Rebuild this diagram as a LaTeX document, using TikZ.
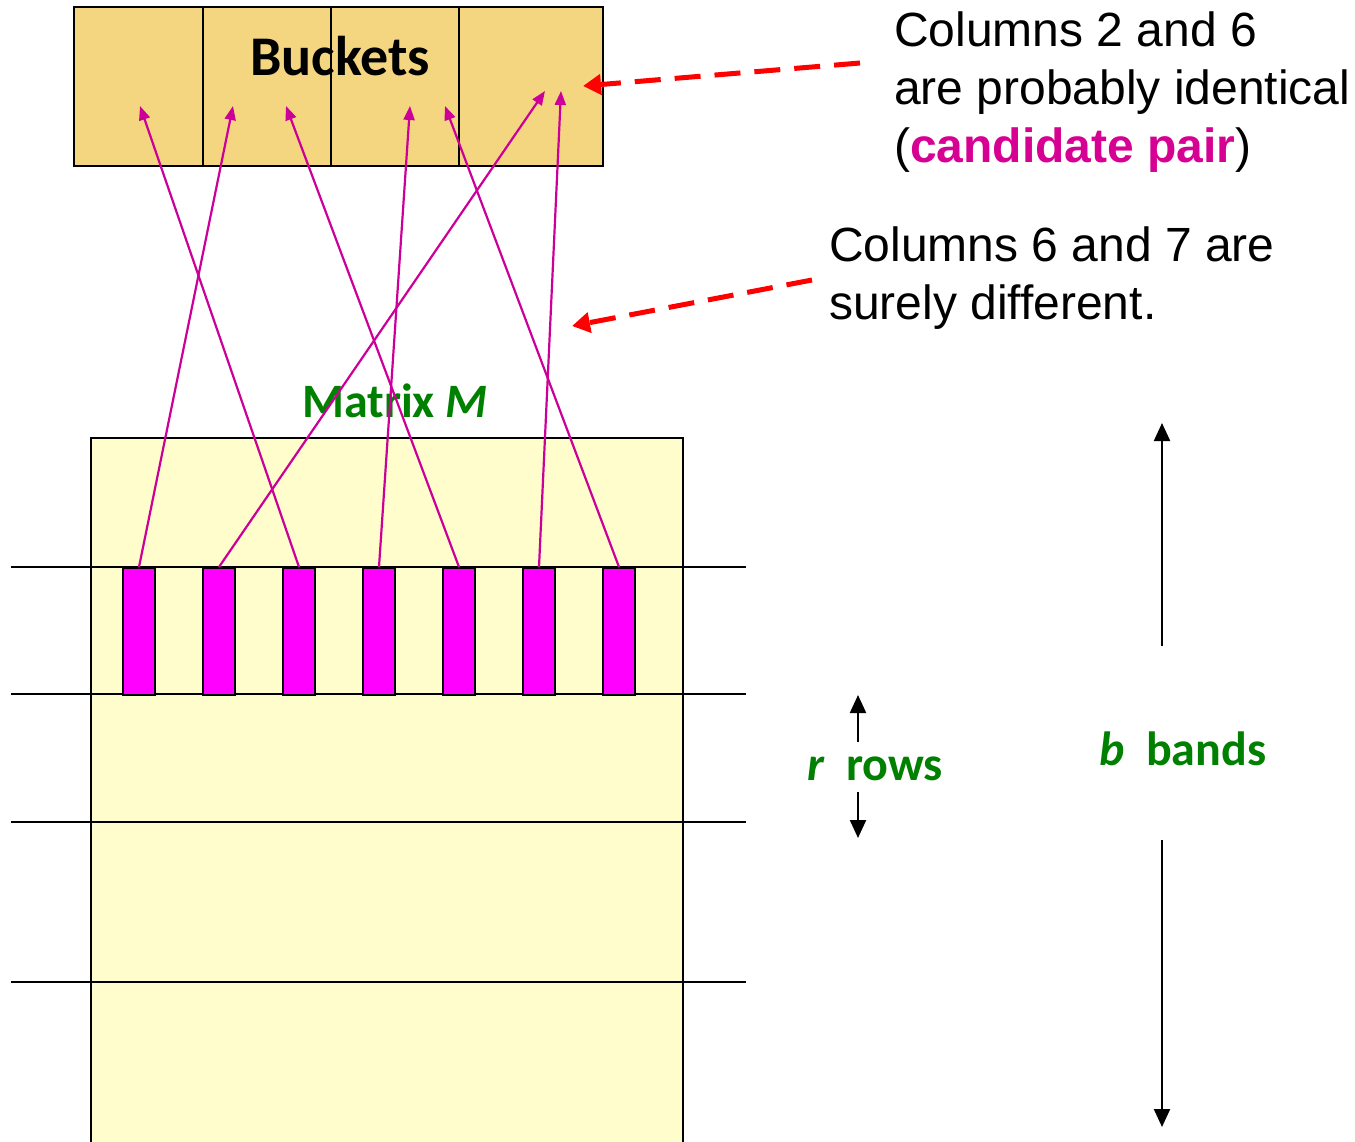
\documentclass[tikz,border=0pt]{standalone}
\usepackage{xcolor}
\usepackage{fontspec}
\setmainfont{Liberation Sans}
\newfontfamily\calfont{Carlito}
\usepackage{tikz}
\usetikzlibrary{arrows.meta, positioning}

\definecolor{bucketfill}{RGB}{245,214,128}
\definecolor{matrixfill}{RGB}{255,253,204}
\definecolor{barfill}{RGB}{255,0,255}
\definecolor{hashline}{RGB}{204,0,153}
\definecolor{pairpink}{RGB}{214,0,147}
\definecolor{labelgreen}{RGB}{0,128,0}

\begin{document}
\begin{tikzpicture}[x=0.5pt, y=-0.5pt, line width=1.1pt]
    \tikzstyle{colbar}=[draw=black, fill=barfill, line width=1.1pt, minimum width=16pt, minimum height=63.5pt, inner sep=0pt, anchor=north]
    \tikzstyle{hashto}=[-{Triangle[length=7pt, width=5.5pt]}, draw=hashline, line width=1.1pt]
    \tikzstyle{noteto}=[-{Triangle[length=9pt, width=10pt]}, draw=red, line width=2.5pt, dash pattern=on 13pt off 7pt]
    \tikzstyle{spanto}=[-{Triangle[length=9pt, width=8pt]}, draw=black, line width=1.1pt]
    \tikzstyle{note}=[anchor=base west, align=left, inner sep=0pt, font=\fontsize{24}{29}\selectfont]
    \tikzstyle{greenlabel}=[inner sep=0pt, text=labelgreen, font=\calfont\bfseries\fontsize{24}{29}\selectfont]

    \useasboundingbox (0,0) rectangle (1355,1141);

    % --- BUCKETS ---
    \fill[bucketfill] (74,7) rectangle (603,166);
    \node[inner sep=0pt, anchor=base, font=\calfont\bfseries\fontsize{28}{34}\selectfont] (buckets) at (340,75) {Buckets};
    \draw (74,7) rectangle (603,166);
    \foreach \x in {203,331,459}
        \draw (\x,7) -- (\x,166);

    % arrow targets inside the buckets
    \coordinate (h1) at (140,106);
    \coordinate (h2) at (233,106);
    \coordinate (h3) at (286,106);
    \coordinate (h4) at (410,106);
    \coordinate (h5) at (445,106);
    \coordinate (h6) at (545,91);
    \coordinate (h7) at (561,91);

    % --- MATRIX M ---
    \fill[matrixfill] (91,438) rectangle (683,1142);
    \draw (91,1142) -- (91,438) -- (683,438) -- (683,1142);
    \node[greenlabel, anchor=base] (mname) at (395,417) {Matrix \textit{M}};

    % band borders
    \foreach \y in {567,694,822,982}
        \draw (11,\y) -- (746,\y);

    % one band, cut into columns
    \foreach \i in {1,...,7}
        \node[colbar] (c\i) at ({59+80*\i},567) {};

    % --- HASHING ---
    \draw[hashto] (c1.north) -- (h2);
    \draw[hashto] (c2.north) -- (h6);
    \draw[hashto] (c3.north) -- (h1);
    \draw[hashto] (c4.north) -- (h4);
    \draw[hashto] (c5.north) -- (h3);
    \draw[hashto] (c6.north) -- (h7);
    \draw[hashto] (c7.north) -- (h5);

    % --- NOTES ---
    % base of a multi-line node = last line
    \node[note] (same) at (893,162) {Columns 2 and 6\\are probably identical\\(\textcolor{pairpink}{\bfseries candidate pair})};
    \node[note] (diff) at (828,319) {Columns 6 and 7 are\\surely different.};

    \coordinate (s1) at (860,63);
    \coordinate (e1) at (583,86);
    \coordinate (s2) at (812,280);
    \coordinate (e2) at (572,326);
    \draw[noteto] (s1) -- (e1);
    \draw[noteto] (s2) -- (e2);

    % --- SIZES ---
    \node[greenlabel, anchor=base west] (rows) at (806,780) {\textit{r}\ \ rows};
    \node[greenlabel, anchor=base west] (bands) at (1098,765) {\textit{b}\ \ bands};

    \coordinate (r1) at (858,742);
    \coordinate (r2) at (858,695);
    \coordinate (r3) at (858,792);
    \coordinate (r4) at (858,838);
    \draw[spanto] (r1) -- (r2);
    \draw[spanto] (r3) -- (r4);

    \coordinate (b1) at (1162,646);
    \coordinate (b2) at (1162,423);
    \coordinate (b3) at (1162,840);
    \coordinate (b4) at (1162,1127);
    \draw[spanto] (b1) -- (b2);
    \draw[spanto] (b3) -- (b4);

\end{tikzpicture}
\end{document}
